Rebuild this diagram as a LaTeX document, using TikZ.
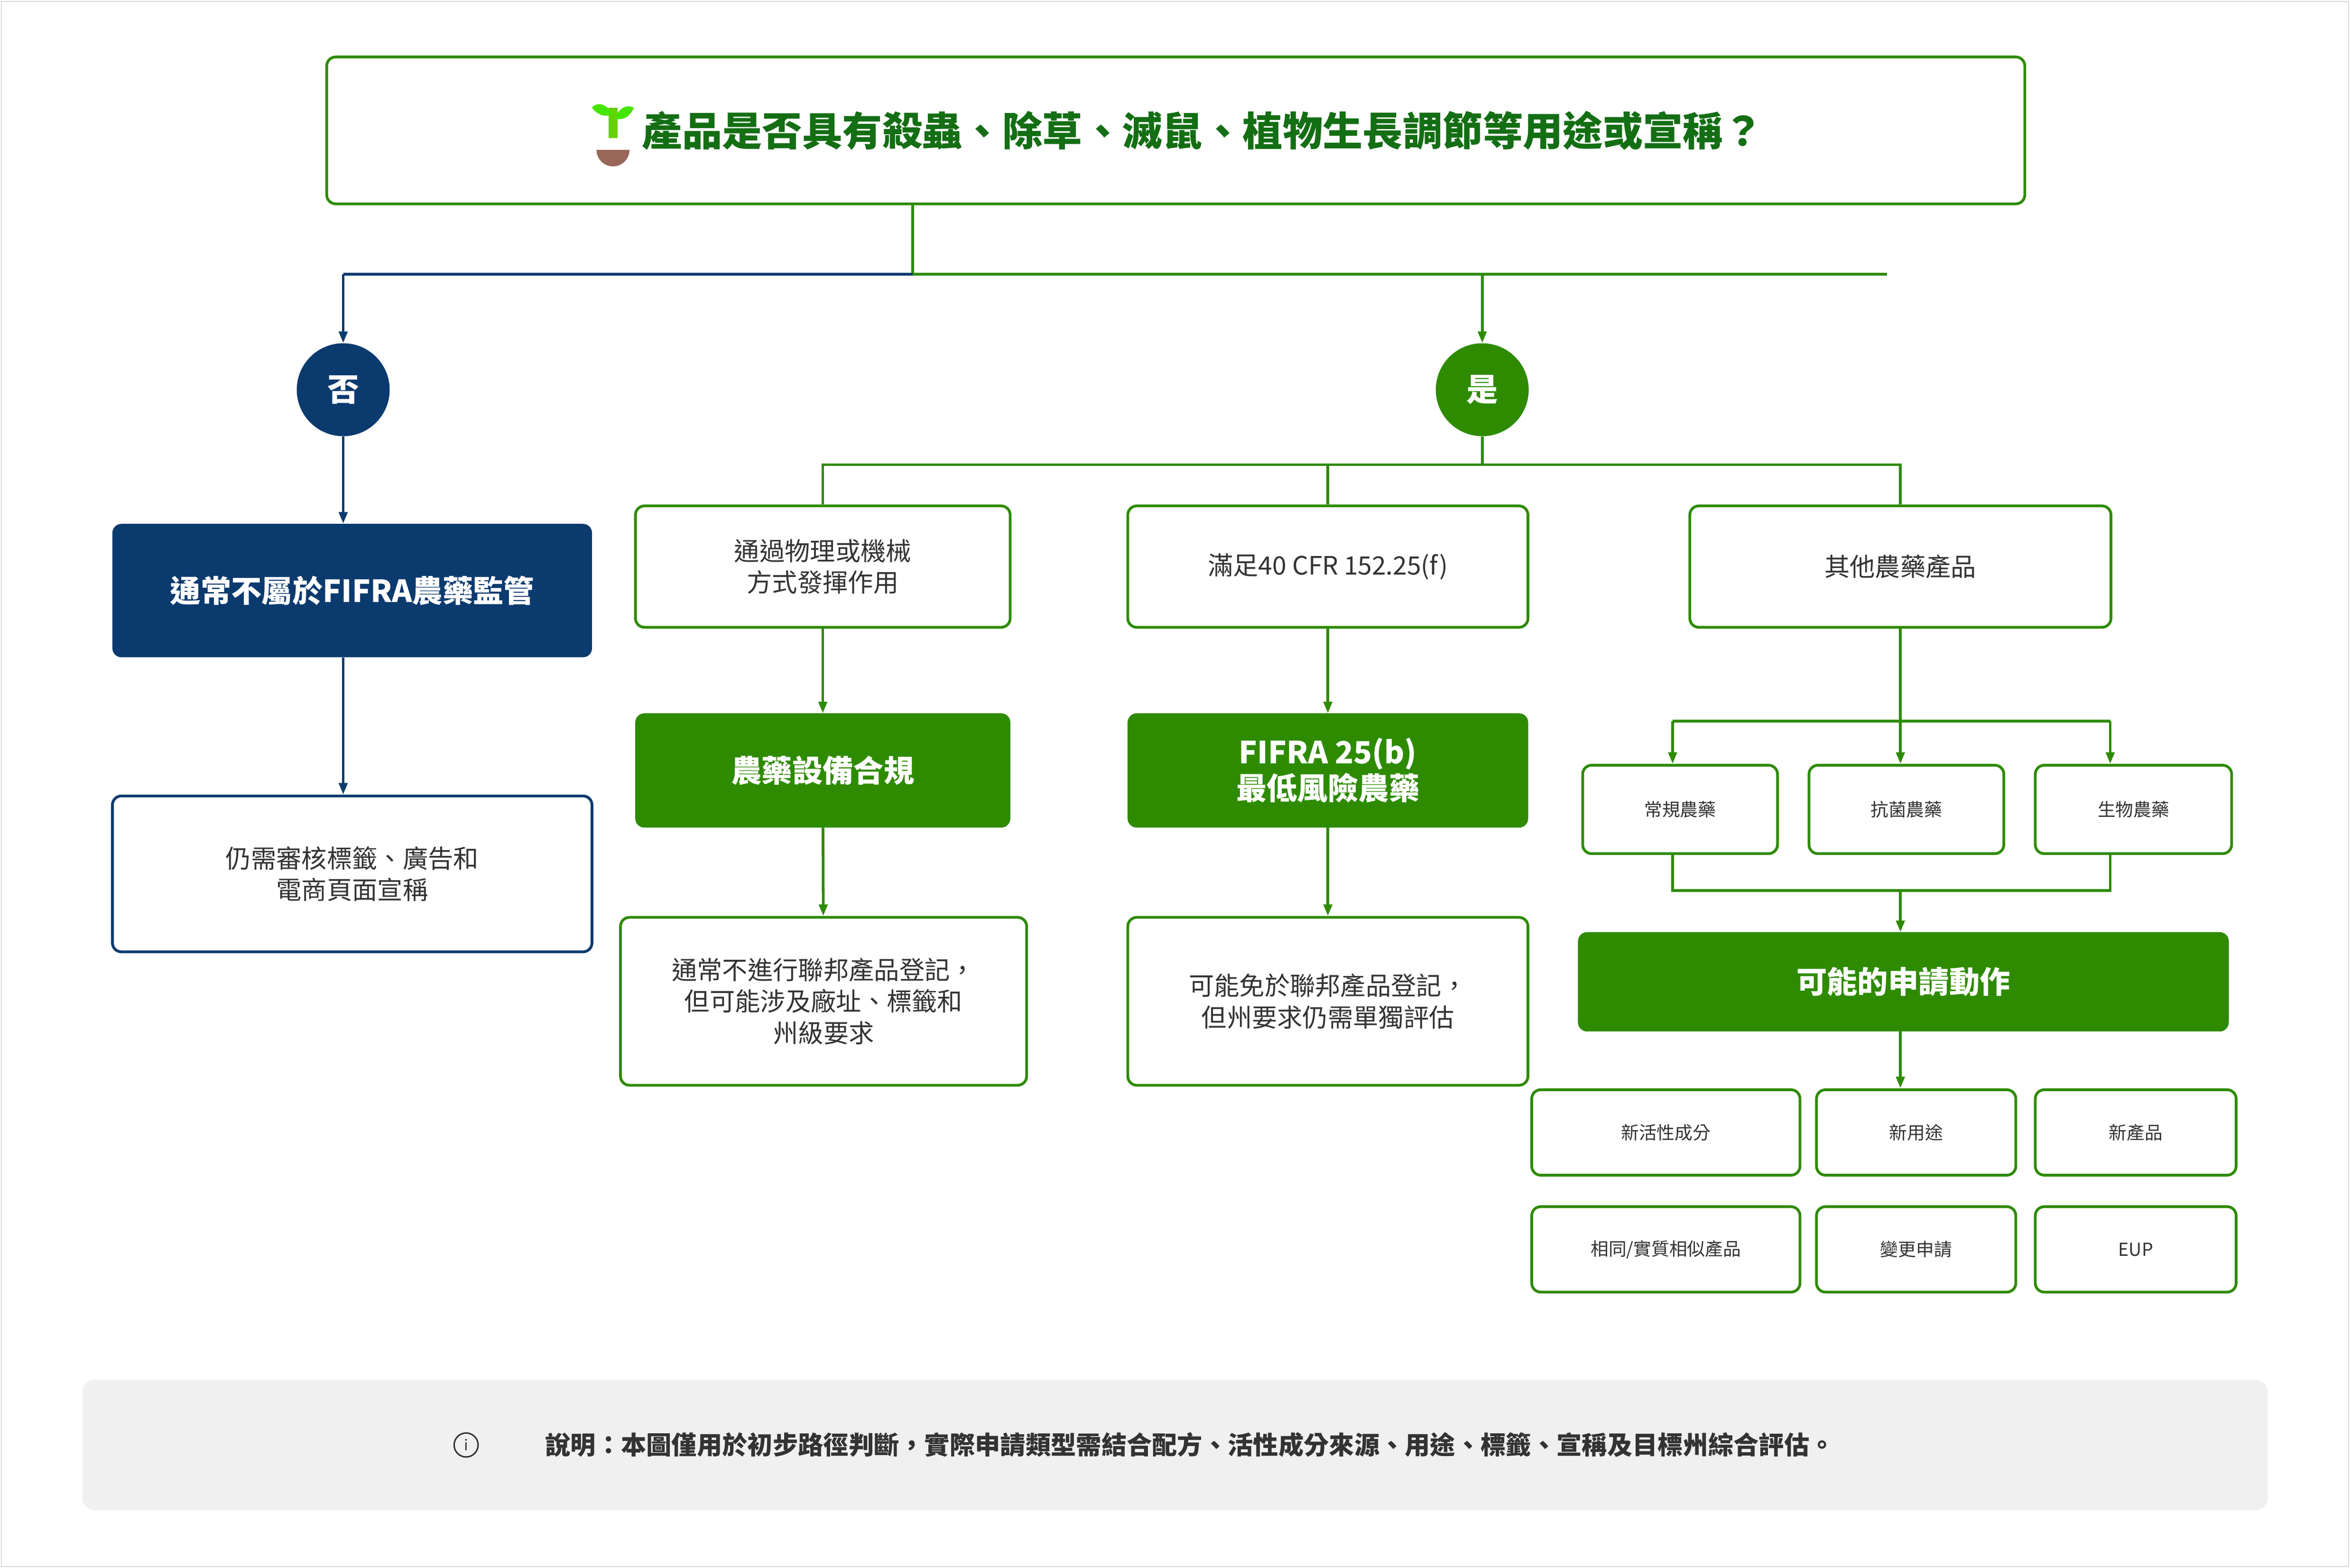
\documentclass[tikz,border=0pt]{standalone}
\usepackage{fontspec}
\setmainfont{Noto Sans CJK TC}
\newfontfamily\cjkb{Noto Sans CJK TC}[FakeBold=0]
\usetikzlibrary{arrows.meta}
\definecolor{gr}{HTML}{2E8B00}
\definecolor{tg}{HTML}{146E14}
\definecolor{bl}{HTML}{0B3A6E}
\definecolor{tx}{HTML}{333333}
\tikzset{
 g/.style={draw=gr,line width=2.6pt},
 b/.style={draw=bl,line width=2.6pt},
 arr/.style={-{Triangle[length=11pt,width=8pt]}},
 wbox/.style={rounded corners=3mm,fill=white,line width=2.6pt,align=center,text=tx,font=\fontsize{24}{30}\selectfont},
 gbox/.style={rounded corners=3mm,fill=gr,draw=gr,align=center,text=white,font=\fontsize{29}{34}\selectfont\bfseries},
 sbox/.style={wbox,draw=gr,font=\fontsize{17}{22}\selectfont},
}
\begin{document}
\begin{tikzpicture}[x=0.5mm,y=-0.5mm]
\useasboundingbox (0,0) rectangle (1568,1046);
\draw[draw=black!15,line width=1pt] (1,1) rectangle (1567,1045);
% title
\node[draw=gr,line width=2.6pt,rounded corners=3mm,minimum width=1133*0.5mm,minimum height=98*0.5mm] (t) at (784.5,87) {};
\node[text=tg,font=\fontsize{38}{44}\selectfont\bfseries,anchor=west] (tt) at (426,87) {產品是否具有殺蟲、除草、滅鼠、植物生長調節等用途或宣稱？};
% seedling
\fill[brown!60!red!50!black!70] (398,100) arc (180:0:11 and 11) -- cycle;
\fill[green!70!black!60!yellow] (406,92) rectangle (412,72);
\fill[green!70!yellow!90!black] (409,76) .. controls (402,66) and (396,70) .. (395,72) .. controls (400,78) and (405,78) .. (409,76);
\fill[green!70!yellow!90!black] (410,79) .. controls (414,70) and (420,70) .. (423,72) .. controls (419,80) and (414,80) .. (410,79);
% no branch
\coordinate (j0) at (609,183);
\coordinate (jb) at (229,183);
\coordinate (jg) at (989,183);
\coordinate (je) at (1259,183);
\draw[g] (609,136) -- (j0);
\draw[b] (j0) -- (jb);
\draw[g] (j0) -- (je);
\node[circle,fill=bl,minimum size=62*0.5mm,text=white,font=\fontsize{30}{34}\selectfont\bfseries] (no) at (229,260) {否};
\node[circle,fill=gr,minimum size=62*0.5mm,text=white,font=\fontsize{30}{34}\selectfont\bfseries] (yes) at (989,260) {是};
\draw[b,arr] (jb) -- (no);
\draw[g,arr] (jg) -- (yes);
\node[rounded corners=3mm,fill=bl,minimum width=320*0.5mm,minimum height=89*0.5mm,text=white,font=\fontsize{29}{34}\selectfont\bfseries] (n1) at (235,394) {通常不屬於FIFRA農藥監管};
\node[wbox,draw=bl,minimum width=320*0.5mm,minimum height=104*0.5mm] (n2) at (235,583) {仍需審核標籤、廣告和\\電商頁面宣稱};
\draw[b,arr] (no) -- (no|-n1.north);
\draw[b,arr] (n1.south-|229,0) -- (n2.north-|229,0);
% yes branch
\coordinate (y0) at (989,310);
\node[wbox,draw=gr,minimum width=250*0.5mm,minimum height=81*0.5mm] (a1) at (549,378) {通過物理或機械\\方式發揮作用};
\node[wbox,draw=gr,minimum width=267*0.5mm,minimum height=81*0.5mm] (a2) at (886,378) {滿足40 CFR 152.25(f)};
\node[wbox,draw=gr,minimum width=281*0.5mm,minimum height=81*0.5mm] (a3) at (1268,378) {其他農藥產品};
\draw[g] (yes) -- (y0);
\draw[g] (a1.north) |- (y0) -| (a3.north);
\draw[g] (a2.north) -- (a2.north|-y0);
\node[gbox,minimum width=250*0.5mm,minimum height=76*0.5mm] (b1) at (549,514) {農藥設備合規};
\node[gbox,minimum width=267*0.5mm,minimum height=76*0.5mm] (b2) at (886,514) {FIFRA 25(b)\\最低風險農藥};
\draw[g,arr] (a1) -- (b1);
\draw[g,arr] (a2) -- (b2);
\node[wbox,draw=gr,minimum width=271*0.5mm,minimum height=112*0.5mm] (c1) at (549.5,668) {通常不進行聯邦產品登記，\\但可能涉及廠址、標籤和\\州級要求};
\node[wbox,draw=gr,minimum width=267*0.5mm,minimum height=112*0.5mm] (c2) at (886,668) {可能免於聯邦產品登記，\\但州要求仍需單獨評估};
\draw[g,arr] (b1) -- (c1);
\draw[g,arr] (b2) -- (c2);
% sub types
\node[sbox,minimum width=130*0.5mm,minimum height=59*0.5mm] (s1) at (1121,540) {常規農藥};
\node[sbox,minimum width=130*0.5mm,minimum height=59*0.5mm] (s2) at (1272,540) {抗菌農藥};
\node[sbox,minimum width=131*0.5mm,minimum height=59*0.5mm] (s3) at (1423.5,540) {生物農藥};
\coordinate (k0) at (1268,481);
\coordinate (k1) at (1116,481);
\coordinate (k3) at (1408,481);
\draw[g] (a3.south) -- (k0);
\draw[g] (k1) -- (k3);
\draw[g,arr] (k1) -- (k1|-s1.north);
\draw[g,arr] (k0) -- (k0|-s2.north);
\draw[g,arr] (k3) -- (k3|-s3.north);
\coordinate (m1) at (1116,594);
\coordinate (m3) at (1408,594);
\coordinate (m0) at (1268,594);
\draw[g] (m1|-s1.south) -- (m1) -- (m3) -- (m3|-s3.south);
\node[gbox,minimum width=434*0.5mm,minimum height=66*0.5mm] (p) at (1270,655) {可能的申請動作};
\draw[g,arr] (m0) -- (m0|-p.north);
\node[sbox,minimum width=179*0.5mm,minimum height=57*0.5mm] (r1) at (1111.5,755.5) {新活性成分};
\node[sbox,minimum width=133*0.5mm,minimum height=57*0.5mm] (r2) at (1278.5,755.5) {新用途};
\node[sbox,minimum width=134*0.5mm,minimum height=57*0.5mm] (r3) at (1425,755.5) {新產品};
\node[sbox,minimum width=179*0.5mm,minimum height=57*0.5mm] (r4) at (1111.5,833.5) {相同/實質相似產品};
\node[sbox,minimum width=133*0.5mm,minimum height=57*0.5mm] (r5) at (1278.5,833.5) {變更申請};
\node[sbox,minimum width=134*0.5mm,minimum height=57*0.5mm] (r6) at (1425,833.5) {EUP};
\coordinate (q) at (1268,726);
\draw[g,arr] (p.south-|q) -- (q);
% footer
\node[rounded corners=4mm,fill=black!6,minimum width=1458*0.5mm,minimum height=87*0.5mm] (f) at (784,964) {};
\node[font=\fontsize{24}{28}\selectfont\bfseries,text=tx] (ft) at (794,964) {說明：本圖僅用於初步路徑判斷，實際申請類型需結合配方、活性成分來源、用途、標籤、宣稱及目標州綜合評估。};
\node[circle,draw=tx,line width=1.4pt,minimum size=16*0.5mm,inner sep=0pt,font=\fontsize{14}{14}\selectfont,text=tx] (fi) at (311,964) {i};
\end{tikzpicture}
\end{document}
